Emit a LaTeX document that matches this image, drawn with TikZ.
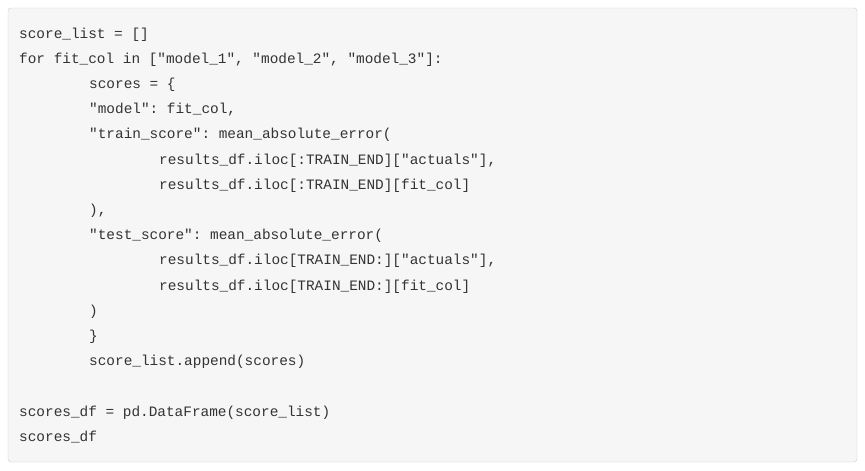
\documentclass[tikz,border=0pt]{standalone}
\usepackage{fontspec}
\setmonofont{Liberation Mono}
\definecolor{bg}{HTML}{F6F6F6}
\definecolor{bd}{HTML}{CCCCCC}
\definecolor{tx}{HTML}{333333}
\begin{document}
\begin{tikzpicture}[x=1pt,y=-1pt,
  codeline/.style={anchor=base west,inner sep=0pt,font=\ttfamily\fontsize{14.4}{16}\selectfont,text=tx}]
\useasboundingbox (0,0) rectangle (865,471);
\draw[bd,fill=bg,rounded corners=3pt] (8,8) rectangle (857,462);
\def\L#1#2#3{\node[codeline] (l#1) at (19+#2*8.75,38+#1*25.2) {\detokenize{#3}};}
\def\Lr#1#2#3{\node[codeline] (l#1) at (19+#2*8.75,38+#1*25.2) {#3};}
\L{0}{0}{score_list = []}
\L{1}{0}{for fit_col in ["model_1", "model_2", "model_3"]:}
\Lr{2}{8}{scores = \{}
\L{3}{8}{"model": fit_col,}
\L{4}{8}{"train_score": mean_absolute_error(}
\L{5}{16}{results_df.iloc[:TRAIN_END]["actuals"],}
\L{6}{16}{results_df.iloc[:TRAIN_END][fit_col]}
\L{7}{8}{),}
\L{8}{8}{"test_score": mean_absolute_error(}
\L{9}{16}{results_df.iloc[TRAIN_END:]["actuals"],}
\L{10}{16}{results_df.iloc[TRAIN_END:][fit_col]}
\L{11}{8}{)}
\Lr{12}{8}{\}}
\L{13}{8}{score_list.append(scores)}
\L{15}{0}{scores_df = pd.DataFrame(score_list)}
\L{16}{0}{scores_df}
\end{tikzpicture}
\end{document}
